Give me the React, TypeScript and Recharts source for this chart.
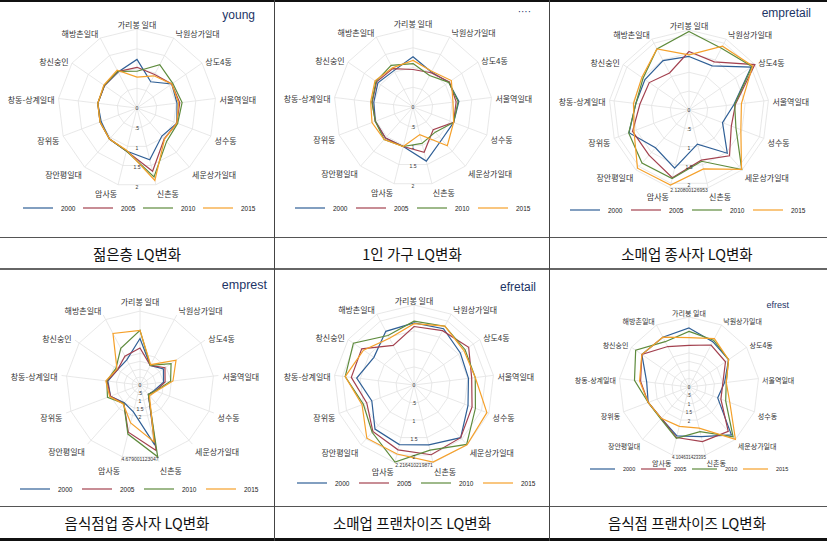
import React from 'react'
import { RadarChart, Radar, PolarGrid, PolarAngleAxis, PolarRadiusAxis, Legend } from 'recharts'

// 13 study areas, clockwise from the top
const areas = [
  '가리봉 일대', '낙원상가일대', '상도4동', '서울역일대', '성수동', '세운상가일대', '신촌동',
  '암사동', '장안평일대', '장위동', '창동-상계일대', '창신숭인', '해방촌일대',
]
const years = ['2000', '2005', '2010', '2015']
const yearColors = ['#2f5f96', '#a3414f', '#5e8b3d', '#f5a02a']
const baseTicks = [0, 0.5, 1, 1.5, 2]

// 젊은층
const young2000 = [1.23, 0.75, 1.07, 1.02, 1.08, 0.95, 1.35, 1.12, 1.05, 0.97, 1.0, 1.0, 1.03]
const young2005 = [1.03, 0.96, 1.07, 1.09, 1.08, 1.04, 1.65, 1.12, 1.05, 1.0, 1.0, 1.0, 1.04]
const young2010 = [0.93, 1.24, 1.1, 1.15, 1.1, 1.13, 1.8, 1.12, 1.05, 1.0, 1.0, 1.01, 1.05]
const young2015 = [0.78, 0.92, 1.07, 1.06, 1.08, 1.05, 1.89, 1.1, 1.05, 1.0, 1.0, 1.02, 1.08]

// 1인 가구
const single2000 = [1.27, 1.0, 1.1, 1.17, 1.1, 1.1, 1.41, 1.03, 1.05, 1.02, 1.0, 1.08, 1.04]
const single2005 = [0.95, 0.98, 1.12, 1.1, 1.1, 0.77, 1.18, 1.03, 1.05, 1.02, 1.04, 1.12, 1.1]
const single2010 = [1.1, 0.9, 1.1, 1.15, 1.1, 0.85, 0.95, 1.03, 1.1, 1.02, 1.05, 1.14, 1.19]
const single2015 = [1.18, 1.02, 1.18, 1.02, 1.1, 1.31, 0.72, 1.03, 1.1, 1.11, 1.08, 1.17, 1.12]

// 소매업 종사자
const empretail2000 = [1.42, 1.32, 2.0, 1.2, 0.95, 1.53, 0.93, 1.59, 1.34, 1.7, 1.42, 1.42, 1.48]
const empretail2005 = [1.55, 1.44, 2.1208, 1.24, 1.2, 1.62, 1.37, 1.85, 1.6, 1.6, 1.31, 1.28, 1.11]
const empretail2010 = [2.08, 1.85, 2.03, 1.22, 1.33, 2.11, 1.4, 1.87, 1.88, 1.71, 1.42, 1.48, 1.83]
const empretail2015 = [1.46, 1.91, 2.05, 1.4, 1.47, 2.1, 1.61, 2.05, 2.06, 1.56, 1.48, 1.52, 1.83]

// 음식점업 종사자
const emprest2000 = [2.94, 1.4, 1.8, 1.5, 0.96, 0.8, 3.92, 1.75, 1.5, 2.0, 2.05, 1.72, 1.8]
const emprest2005 = [2.34, 1.4, 1.92, 1.6, 1.05, 0.8, 4.27, 3.08, 1.55, 2.0, 2.1, 1.72, 2.06]
const emprest2010 = [3.46, 1.4, 2.39, 1.95, 1.05, 0.8, 4.679, 3.2, 1.55, 2.2, 2.12, 1.85, 2.62]
const emprest2015 = [3.46, 1.45, 2.77, 2.1, 1.1, 0.9, 3.71, 2.47, 1.6, 2.05, 2.18, 1.77, 3.68]

// 소매업 프랜차이즈
const efretail2000 = [1.72, 1.76, 1.56, 1.52, 1.6, 1.95, 1.71, 1.7, 1.63, 1.25, 1.6, 1.35, 1.68]
const efretail2005 = [1.62, 1.7, 1.84, 1.61, 1.72, 1.95, 1.99, 1.85, 1.72, 1.4, 1.75, 1.76, 1.24]
const efretail2010 = [1.77, 1.84, 1.72, 1.71, 1.82, 2.2, 1.86, 2.2, 1.75, 1.5, 1.92, 2.04, 1.55]
const efretail2015 = [1.7, 1.84, 1.68, 1.71, 2.16, 2.2164, 2.2, 1.97, 1.97, 1.54, 1.92, 1.7, 1.46]

// 음식점 프랜차이즈
const efrest2000 = [3.46, 3.0, 2.82, 2.1, 1.8, 3.75, 3.0, 2.95, 2.45, 2.56, 2.5, 3.36, 3.3]
const efrest2005 = [2.44, 2.78, 2.6, 2.0, 2.0, 3.47, 3.3, 3.05, 2.45, 2.56, 2.86, 3.36, 2.68]
const efrest2010 = [3.26, 3.1, 2.82, 2.2, 2.3, 3.9, 2.7, 3.1, 2.5, 2.56, 3.22, 3.8, 3.0]
const efrest2015 = [2.9, 3.2, 2.82, 2.2, 2.56, 4.1046, 2.48, 2.38, 2.45, 2.56, 2.92, 3.36, 3.3]

const panels = [
  { title: 'young', caption: '젊은층 LQ변화', series: [young2000, young2005, young2010, young2015],
    max: 2, maxLabel: '', left: 0, top: 0, cx: 137, cy: 108, r: 79, label: 8, tick: 5,
    legendY: 208, legendX: 23, legendStep: 60, legendLine: 30, legendFont: 6.5,
    titleRight: 19, titleY: 15, titleSize: 12 },
  { title: '····', caption: '1인 가구 LQ변화', series: [single2000, single2005, single2010, single2015],
    max: 2, maxLabel: '', left: 275, top: 0, cx: 138, cy: 107, r: 79, label: 8, tick: 5,
    legendY: 208, legendX: 20, legendStep: 61, legendLine: 30, legendFont: 6.5,
    titleRight: 18, titleY: 12, titleSize: 10 },
  { title: 'empretail', caption: '소매업 종사자 LQ변화', series: [empretail2000, empretail2005, empretail2010, empretail2015],
    max: 2.1208, maxLabel: '2.120800126953', left: 550, top: 0, cx: 139, cy: 110, r: 80, label: 8, tick: 5,
    legendY: 210, legendX: 20, legendStep: 61, legendLine: 30, legendFont: 6.5,
    titleRight: 13, titleY: 13, titleSize: 12 },
  { title: 'emprest', caption: '음식점업 종사자 LQ변화', series: [emprest2000, emprest2005, emprest2010, emprest2015],
    max: 4.679, maxLabel: '4.679001123047', left: 0, top: 270, cx: 140, cy: 115, r: 79, label: 8, tick: 5,
    legendY: 219, legendX: 20, legendStep: 62, legendLine: 30, legendFont: 6.5,
    titleRight: 7, titleY: 15, titleSize: 12.5 },
  { title: 'efretail', caption: '소매업 프랜차이즈 LQ변화', series: [efretail2000, efretail2005, efretail2010, efretail2015],
    max: 2.2164, maxLabel: '2.216410219871', left: 275, top: 270, cx: 139, cy: 115, r: 80, label: 8, tick: 5,
    legendY: 213, legendX: 22, legendStep: 62, legendLine: 30, legendFont: 6.5,
    titleRight: 13, titleY: 17, titleSize: 12 },
  { title: 'efrest', caption: '음식점 프랜차이즈 LQ변화', series: [efrest2000, efrest2005, efrest2010, efrest2015],
    max: 4.1046, maxLabel: '4.104631423395', left: 550, top: 270, cx: 139, cy: 117, r: 70, label: 7, tick: 4.5,
    legendY: 199, legendX: 40, legendStep: 51, legendLine: 25, legendFont: 5.5,
    titleRight: 35, titleY: 35, titleSize: 9 },
]

const KR = '"Noto Sans CJK KR", "Noto Sans", sans-serif'
const LAT = '"Liberation Sans", Arial, sans-serif'

function AreaTick(props: any) {
  const { x, y, payload, size } = props
  const a = (payload.coordinate * Math.PI) / 180
  const ux = Math.cos(a)
  const uy = -Math.sin(a)
  const anchor = ux > 0.15 ? 'start' : ux < -0.15 ? 'end' : 'middle'
  const k = size / 8
  return (
    <text x={x + ux * 3 * k} y={y + (uy * 6 + 2) * k} textAnchor={anchor} dominantBaseline="central"
      fontSize={size} fill="#333" fontFamily={KR}>
      {payload.value}
    </text>
  )
}

function LevelTick(props: any) {
  const { x, y, payload, size, max, maxLabel } = props
  const v = payload.value
  const txt = v === max && maxLabel ? maxLabel : v === 0 ? '0' : String(v).replace(/^0\./, '.')
  return (
    <text x={x} y={y} textAnchor="middle" dominantBaseline="central" fontSize={size} fill="#333" fontFamily={LAT}>
      {txt}
    </text>
  )
}

function YearLegend({ p }: { p: any }) {
  return (
    <svg width={274} height={12} style={{ display: 'block' }}>
      {years.map((yr, i) => {
        const x0 = p.legendX + i * p.legendStep
        return (
          <g key={yr}>
            <line x1={x0} x2={x0 + p.legendLine} y1={6} y2={6} stroke={yearColors[i]} strokeWidth={1.2} />
            <text x={x0 + p.legendLine + 8} y={6} dominantBaseline="central" fontSize={p.legendFont}
              fontFamily={LAT} fill="#222">{yr}</text>
          </g>
        )
      })}
    </svg>
  )
}

function Panel({ p }: { p: any }) {
  const data = areas.map((name, i) => ({
    name,
    y2000: p.series[0][i],
    y2005: p.series[1][i],
    y2010: p.series[2][i],
    y2015: p.series[3][i],
  }))
  const ticks = p.max > 2 ? [...baseTicks, p.max] : baseTicks
  return (
    <div style={{ position: 'absolute', left: p.left, top: p.top, width: 274, height: 236 }}>
      <RadarChart width={274} height={236} data={data} cx={p.cx} cy={p.cy} outerRadius={p.r}
        margin={{ top: 0, right: 0, bottom: 0, left: 0 }}>
        <PolarGrid gridType="polygon" stroke="#e2e2e2" strokeWidth={0.8} />
        <PolarAngleAxis dataKey="name" tickLine={false} axisLine={false} tickSize={1}
          tick={(t: any) => <AreaTick {...t} size={p.label} />} />
        <PolarRadiusAxis type="number" angle={-90} domain={[0, p.max]} ticks={ticks}
          axisLine={false} tickLine={false}
          tick={(t: any) => <LevelTick {...t} size={p.tick} max={p.max} maxLabel={p.maxLabel} />} />
        {years.map((yr, i) => (
          <Radar key={yr} name={yr} dataKey={`y${yr}`} stroke={yearColors[i]} strokeWidth={1.2}
            fill="none" fillOpacity={0} dot={false} isAnimationActive={false} />
        ))}
        <Legend content={() => <YearLegend p={p} />}
          wrapperStyle={{ position: 'absolute', left: 0, top: p.legendY - 6, width: 274, height: 12 }} />
      </RadarChart>
      <div style={{ position: 'absolute', right: p.titleRight, top: p.titleY - p.titleSize / 2,
        fontSize: p.titleSize, lineHeight: `${p.titleSize}px`, color: '#1c3466', fontFamily: LAT }}>
        {p.title}
      </div>
    </div>
  )
}

export default function App() {
  const line = (style: React.CSSProperties) => <div style={{ position: 'absolute', ...style }} />
  return (
    <div style={{ position: 'absolute', left: 0, top: 0, width: 827, height: 541, background: '#fff', overflow: 'hidden' }}>
      {panels.map((p) => <Panel key={p.title} p={p} />)}
      {panels.map((p, i) => (
        <div key={p.caption} style={{
          position: 'absolute', left: p.left, width: 274, top: i < 3 ? 238 : 507, height: i < 3 ? 30 : 31,
          display: 'flex', alignItems: 'center', justifyContent: 'center',
          fontFamily: KR, fontSize: 14.5, color: '#111',
        }}>{p.caption}</div>
      ))}
      {line({ left: 0, top: 0, width: 827, height: 2, background: '#111' })}
      {line({ left: 0, top: 237, width: 827, height: 1, background: '#555' })}
      {line({ left: 0, top: 268, width: 827, height: 2, background: '#666' })}
      {line({ left: 0, top: 506, width: 827, height: 1, background: '#555' })}
      {line({ left: 0, top: 538, width: 827, height: 3, background: '#111' })}
      {line({ left: 274, top: 0, width: 1, height: 541, background: '#444' })}
      {line({ left: 549, top: 0, width: 1, height: 541, background: '#444' })}
    </div>
  )
}
